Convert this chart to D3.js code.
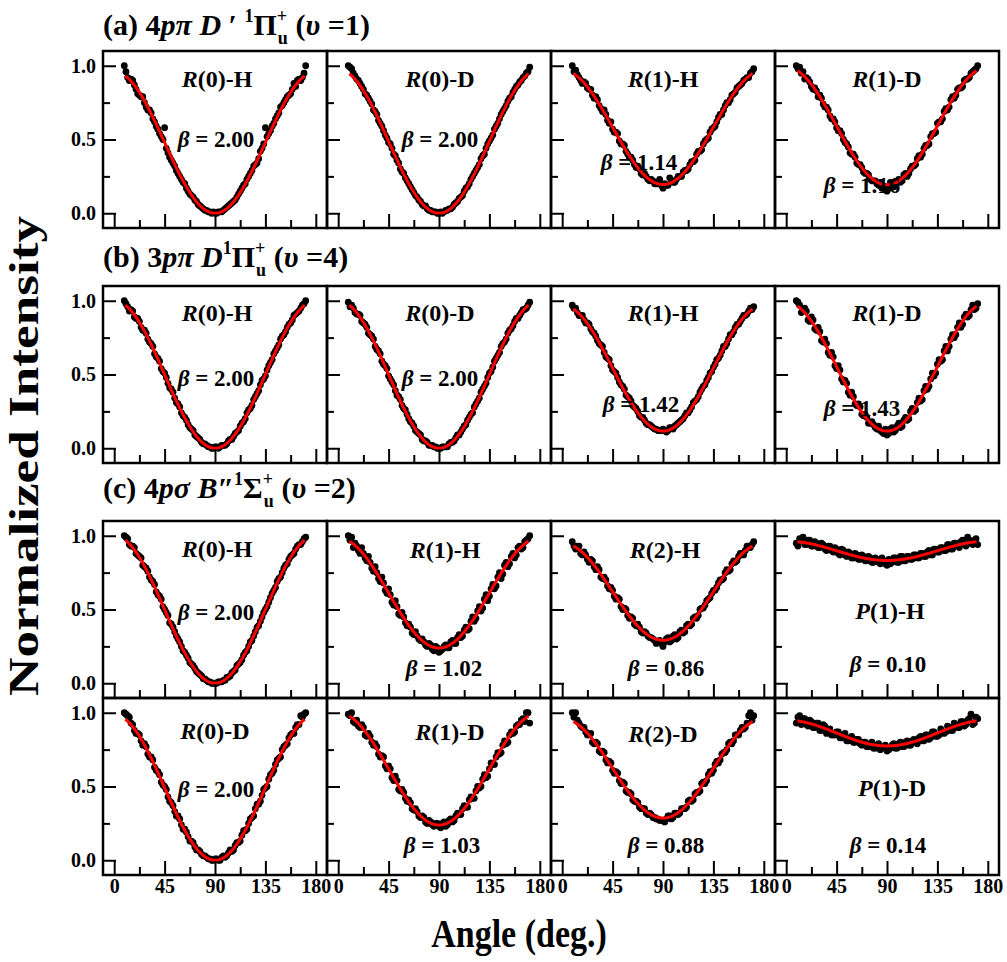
<!DOCTYPE html>
<html>
<head>
<meta charset="utf-8">
<script src="https://cdn.jsdelivr.net/npm/d3@7"></script>
<style>
  body { margin: 0; background: #fff; }
  svg { display: block; }
  text { font-family: "Liberation Serif", "Times New Roman", Times, serif; font-weight: bold; fill: #000; white-space: pre; }
</style>
</head>
<body>
<svg id="chart" width="1007" height="962"></svg>
<script>
// Detection angles (deg): two interleaved sweeps
const sweepA = [9,12,15,18,21,24,27,30,33,36,39,42,45,48,51,54,57,60,63,66,69,72,75,78,81,84,87,90,
  93,96,99,102,105,108,111,114,117,120,123,126,129,132,135,138,141,144,147,150,153,156,159,162,165,168,171];
const sweepB = [10.5,13.5,16.5,19.5,22.5,25.5,28.5,31.5,34.5,37.5,40.5,43.5,46.5,49.5,52.5,55.5,58.5,61.5,64.5,67.5,70.5,73.5,76.5,79.5,82.5,85.5,88.5,
  91.5,94.5,97.5,100.5,103.5,106.5,109.5,112.5,115.5,118.5,121.5,124.5,127.5,130.5,133.5,136.5,139.5,142.5,145.5,148.5,151.5,154.5,157.5,160.5,163.5,166.5,169.5];

// (a) 4pπ D′ state, υ=1
const a_R0H = [1.00,0.92,0.91,0.87,0.81,0.79,0.75,0.70,0.68,0.62,0.57,0.52,0.58,0.41,0.36,0.32,0.27,0.23,0.20,0.15,0.12,0.09,0.06,0.04,0.02,0.01,0.00,0.00,
  0.01,0.01,0.03,0.05,0.07,0.09,0.13,0.17,0.20,0.25,0.29,0.33,0.37,0.44,0.58,0.54,0.59,0.64,0.68,0.73,0.77,0.80,0.84,0.86,0.91,0.92,1.00];
const a_R0H_2 = [0.96,0.90,0.90,0.84,0.80,0.79,0.72,0.70,0.64,0.59,0.54,0.50,0.44,0.38,0.34,0.29,0.25,0.21,0.17,0.13,0.11,0.08,0.05,0.03,0.02,0.01,0.01,
  0.00,0.01,0.02,0.04,0.06,0.08,0.11,0.15,0.19,0.23,0.27,0.32,0.34,0.42,0.47,0.52,0.56,0.61,0.66,0.72,0.75,0.79,0.81,0.88,0.90,0.90,0.95];
const a_R0D = [1.00,0.98,0.93,0.90,0.86,0.81,0.78,0.74,0.69,0.63,0.59,0.53,0.48,0.44,0.39,0.34,0.28,0.24,0.20,0.16,0.12,0.09,0.06,0.05,0.02,0.01,0.01,0.00,
  0.00,0.02,0.03,0.04,0.07,0.10,0.12,0.17,0.20,0.25,0.29,0.33,0.39,0.44,0.49,0.53,0.59,0.64,0.69,0.73,0.78,0.82,0.86,0.89,0.92,0.95,0.99];
const a_R0D_2 = [0.99,0.95,0.91,0.88,0.84,0.80,0.76,0.70,0.67,0.61,0.56,0.51,0.47,0.40,0.36,0.30,0.27,0.22,0.18,0.14,0.11,0.08,0.05,0.03,0.02,0.01,0.00,
  0.01,0.01,0.02,0.03,0.06,0.08,0.11,0.15,0.18,0.23,0.27,0.31,0.37,0.40,0.47,0.51,0.57,0.61,0.67,0.71,0.76,0.79,0.84,0.87,0.90,0.93,0.96];
const a_R1H = [1.00,0.97,0.92,0.88,0.88,0.84,0.80,0.79,0.73,0.69,0.67,0.61,0.57,0.55,0.49,0.47,0.42,0.38,0.36,0.31,0.30,0.26,0.25,0.22,0.22,0.20,0.23,0.17,
  0.19,0.24,0.21,0.23,0.25,0.28,0.29,0.33,0.35,0.40,0.42,0.47,0.50,0.55,0.58,0.62,0.67,0.70,0.75,0.77,0.81,0.85,0.87,0.90,0.92,0.95,0.98];
const a_R1H_2 = [0.96,0.94,0.90,0.89,0.85,0.84,0.78,0.77,0.71,0.70,0.63,0.62,0.55,0.54,0.47,0.46,0.40,0.38,0.33,0.32,0.27,0.27,0.23,0.23,0.20,0.21,0.19,
  0.20,0.19,0.22,0.21,0.25,0.25,0.29,0.30,0.35,0.36,0.42,0.43,0.49,0.51,0.57,0.59,0.65,0.67,0.73,0.75,0.80,0.82,0.86,0.88,0.91,0.92,0.96];
const a_R1D = [1.00,0.99,0.96,0.92,0.89,0.84,0.83,0.80,0.74,0.72,0.66,0.64,0.58,0.56,0.50,0.47,0.41,0.40,0.34,0.33,0.28,0.27,0.23,0.22,0.20,0.21,0.18,0.15,
  0.21,0.18,0.22,0.21,0.26,0.25,0.30,0.32,0.37,0.38,0.44,0.46,0.52,0.54,0.61,0.62,0.69,0.70,0.77,0.78,0.84,0.85,0.90,0.91,0.95,0.97,1.00];
const a_R1D_2 = [0.98,0.95,0.91,0.91,0.86,0.85,0.79,0.78,0.72,0.70,0.64,0.62,0.56,0.54,0.48,0.45,0.40,0.38,0.33,0.31,0.27,0.26,0.22,0.22,0.19,0.17,0.18,
  0.17,0.20,0.19,0.23,0.22,0.27,0.27,0.32,0.33,0.39,0.40,0.46,0.47,0.54,0.55,0.62,0.64,0.71,0.72,0.79,0.80,0.85,0.86,0.91,0.92,0.96,0.98];

// (b) 3pπ D state, υ=4
const b_R0H = [1.00,0.96,0.94,0.89,0.88,0.82,0.80,0.74,0.71,0.64,0.61,0.54,0.51,0.44,0.40,0.34,0.30,0.24,0.21,0.16,0.13,0.09,0.07,0.04,0.03,0.01,0.00,0.01,
  0.00,0.02,0.02,0.05,0.06,0.10,0.12,0.17,0.20,0.26,0.29,0.35,0.39,0.46,0.49,0.56,0.60,0.66,0.70,0.76,0.79,0.84,0.87,0.91,0.93,0.97,1.00];
const b_R0H_2 = [0.98,0.93,0.93,0.88,0.86,0.80,0.78,0.72,0.69,0.62,0.59,0.52,0.48,0.41,0.38,0.31,0.28,0.22,0.19,0.14,0.12,0.08,0.06,0.03,0.02,0.01,0.00,
  0.01,0.01,0.02,0.03,0.06,0.08,0.11,0.15,0.18,0.24,0.27,0.33,0.37,0.43,0.47,0.53,0.58,0.64,0.68,0.74,0.77,0.82,0.85,0.90,0.92,0.95,0.98];
const b_R0D = [0.99,0.97,0.92,0.91,0.86,0.84,0.78,0.76,0.69,0.66,0.59,0.56,0.49,0.45,0.39,0.35,0.29,0.26,0.20,0.17,0.12,0.10,0.06,0.05,0.02,0.02,0.01,0.00,
  0.01,0.01,0.03,0.04,0.07,0.09,0.13,0.16,0.21,0.24,0.30,0.34,0.40,0.44,0.51,0.55,0.61,0.65,0.71,0.74,0.80,0.83,0.88,0.90,0.94,0.95,0.99];
const b_R0D_2 = [0.96,0.95,0.91,0.90,0.85,0.82,0.77,0.74,0.67,0.64,0.57,0.54,0.47,0.43,0.36,0.33,0.27,0.23,0.18,0.15,0.11,0.09,0.05,0.04,0.02,0.01,0.00,
  0.00,0.01,0.01,0.04,0.05,0.09,0.11,0.15,0.19,0.23,0.28,0.32,0.38,0.42,0.48,0.52,0.59,0.63,0.69,0.72,0.78,0.81,0.86,0.88,0.92,0.94,0.97];
const b_R1H = [0.97,0.95,0.90,0.90,0.85,0.84,0.79,0.76,0.71,0.69,0.62,0.60,0.53,0.51,0.45,0.42,0.36,0.34,0.29,0.27,0.22,0.21,0.17,0.16,0.14,0.13,0.12,0.13,
  0.11,0.14,0.13,0.16,0.18,0.20,0.24,0.26,0.31,0.33,0.38,0.42,0.46,0.51,0.55,0.60,0.63,0.69,0.71,0.77,0.79,0.84,0.86,0.90,0.91,0.95,0.96];
const b_R1H_2 = [0.95,0.92,0.90,0.87,0.85,0.81,0.78,0.73,0.70,0.65,0.61,0.56,0.52,0.48,0.43,0.40,0.35,0.32,0.28,0.25,0.21,0.19,0.16,0.15,0.13,0.12,0.12,
  0.12,0.12,0.14,0.15,0.17,0.19,0.22,0.24,0.28,0.32,0.35,0.40,0.43,0.48,0.52,0.57,0.61,0.66,0.69,0.74,0.77,0.82,0.84,0.88,0.90,0.93,0.94];
const b_R1D = [1.00,0.97,0.94,0.93,0.86,0.87,0.80,0.79,0.72,0.71,0.63,0.62,0.54,0.53,0.45,0.44,0.36,0.35,0.29,0.28,0.22,0.21,0.17,0.16,0.13,0.12,0.10,0.09,
  0.13,0.11,0.15,0.14,0.19,0.19,0.25,0.25,0.31,0.32,0.39,0.40,0.47,0.49,0.57,0.59,0.66,0.66,0.74,0.75,0.82,0.82,0.89,0.89,0.94,0.94,0.98];
const b_R1D_2 = [0.99,0.92,0.95,0.87,0.89,0.81,0.82,0.73,0.74,0.65,0.65,0.56,0.56,0.47,0.46,0.38,0.38,0.30,0.30,0.23,0.23,0.17,0.18,0.14,0.15,0.11,0.13,
  0.10,0.14,0.12,0.17,0.15,0.21,0.20,0.27,0.26,0.34,0.33,0.42,0.42,0.51,0.51,0.60,0.60,0.69,0.69,0.77,0.77,0.85,0.84,0.91,0.90,0.97,0.95];

// (c) 4pσ B″ state, υ=2
const c_R0H = [1.00,0.98,0.93,0.92,0.87,0.85,0.79,0.76,0.70,0.67,0.60,0.57,0.50,0.46,0.40,0.35,0.30,0.25,0.21,0.17,0.13,0.10,0.07,0.05,0.03,0.01,0.00,0.00,
  0.01,0.01,0.02,0.04,0.07,0.09,0.13,0.16,0.21,0.25,0.29,0.35,0.39,0.45,0.50,0.55,0.61,0.65,0.71,0.75,0.80,0.84,0.87,0.91,0.94,0.96,0.99];
const c_R0H_2 = [0.99,0.94,0.93,0.88,0.86,0.80,0.78,0.72,0.69,0.62,0.59,0.52,0.48,0.41,0.38,0.32,0.28,0.22,0.19,0.14,0.12,0.08,0.06,0.03,0.02,0.01,0.00,
  0.00,0.01,0.02,0.04,0.05,0.08,0.12,0.14,0.19,0.22,0.28,0.32,0.38,0.42,0.48,0.52,0.58,0.63,0.69,0.72,0.78,0.81,0.86,0.88,0.93,0.94,0.98];
const c_R1H = [1.00,0.99,0.95,0.90,0.92,0.85,0.86,0.78,0.79,0.71,0.72,0.63,0.64,0.55,0.56,0.47,0.48,0.41,0.40,0.34,0.35,0.30,0.30,0.26,0.27,0.23,0.25,0.21,
  0.23,0.26,0.24,0.29,0.27,0.33,0.32,0.38,0.37,0.45,0.44,0.52,0.51,0.60,0.59,0.67,0.66,0.75,0.74,0.82,0.81,0.88,0.87,0.93,0.92,0.97,1.00];
const c_R1H_2 = [0.97,0.92,0.93,0.88,0.88,0.83,0.82,0.76,0.75,0.69,0.68,0.61,0.60,0.53,0.52,0.46,0.45,0.39,0.38,0.33,0.32,0.29,0.28,0.25,0.26,0.22,0.24,
  0.22,0.25,0.24,0.28,0.27,0.31,0.31,0.36,0.36,0.42,0.42,0.49,0.49,0.57,0.56,0.64,0.64,0.72,0.71,0.80,0.79,0.86,0.85,0.92,0.91,0.96,0.98];
const c_R2H = [0.96,0.91,0.93,0.87,0.87,0.82,0.83,0.77,0.77,0.71,0.70,0.64,0.63,0.57,0.57,0.50,0.50,0.44,0.44,0.39,0.38,0.34,0.34,0.31,0.30,0.27,0.29,0.25,
  0.30,0.28,0.32,0.30,0.35,0.34,0.39,0.39,0.44,0.44,0.50,0.51,0.56,0.58,0.63,0.65,0.70,0.71,0.77,0.77,0.83,0.83,0.88,0.87,0.93,0.92,0.96];
const c_R2H_2 = [0.93,0.93,0.88,0.89,0.84,0.84,0.79,0.79,0.72,0.72,0.66,0.65,0.59,0.58,0.52,0.51,0.46,0.45,0.40,0.40,0.35,0.35,0.32,0.31,0.29,0.28,0.27,
  0.28,0.31,0.29,0.33,0.31,0.36,0.35,0.40,0.40,0.45,0.46,0.51,0.53,0.57,0.61,0.63,0.68,0.70,0.75,0.76,0.81,0.82,0.86,0.88,0.90,0.93,0.94];
const c_P1H = [0.95,0.98,0.99,0.94,0.97,0.93,0.95,0.92,0.94,0.90,0.93,0.89,0.91,0.87,0.90,0.86,0.88,0.85,0.87,0.84,0.86,0.83,0.85,0.82,0.84,0.81,0.83,0.80,
  0.81,0.85,0.82,0.86,0.83,0.86,0.84,0.87,0.85,0.88,0.86,0.89,0.87,0.91,0.89,0.92,0.90,0.94,0.91,0.95,0.93,0.96,0.94,0.99,0.95,0.97,0.94];
const c_P1H_2 = [0.93,0.97,0.94,0.97,0.93,0.96,0.92,0.95,0.91,0.93,0.90,0.92,0.88,0.91,0.87,0.89,0.85,0.88,0.84,0.87,0.83,0.86,0.82,0.85,0.82,0.85,0.81,
  0.84,0.82,0.85,0.82,0.86,0.83,0.86,0.84,0.87,0.85,0.88,0.86,0.90,0.87,0.91,0.89,0.92,0.90,0.94,0.91,0.95,0.92,0.97,0.93,0.97,0.94,0.98];
const c_R0D = [1.00,0.98,0.93,0.88,0.86,0.81,0.79,0.72,0.70,0.63,0.60,0.53,0.50,0.43,0.39,0.33,0.30,0.24,0.21,0.16,0.13,0.09,0.07,0.04,0.03,0.01,0.00,0.01,
  0.00,0.02,0.02,0.05,0.06,0.10,0.12,0.17,0.20,0.25,0.29,0.35,0.38,0.44,0.49,0.55,0.59,0.65,0.69,0.75,0.78,0.83,0.86,0.90,0.92,0.97,1.00];
const c_R0D_2 = [0.99,0.97,0.92,0.86,0.85,0.78,0.77,0.70,0.68,0.61,0.58,0.51,0.48,0.40,0.37,0.30,0.28,0.21,0.19,0.13,0.12,0.07,0.06,0.03,0.02,0.01,0.00,
  0.01,0.00,0.03,0.03,0.07,0.07,0.12,0.13,0.20,0.21,0.28,0.30,0.38,0.40,0.48,0.50,0.58,0.61,0.68,0.70,0.77,0.79,0.85,0.86,0.92,0.98,0.99];
const c_R1D = [0.99,1.00,0.93,0.91,0.92,0.85,0.86,0.80,0.79,0.72,0.71,0.64,0.64,0.56,0.57,0.48,0.48,0.42,0.41,0.35,0.35,0.30,0.30,0.26,0.27,0.24,0.25,0.23,
  0.25,0.23,0.27,0.26,0.30,0.31,0.35,0.36,0.41,0.42,0.47,0.49,0.55,0.56,0.62,0.65,0.70,0.72,0.78,0.79,0.85,0.86,0.91,0.92,0.96,1.00,0.93];
const c_R1D_2 = [0.98,0.94,0.95,0.90,0.90,0.84,0.84,0.78,0.77,0.70,0.70,0.62,0.62,0.54,0.54,0.47,0.46,0.40,0.39,0.34,0.33,0.29,0.29,0.25,0.26,0.23,0.25,
  0.22,0.26,0.24,0.28,0.27,0.32,0.31,0.37,0.36,0.43,0.42,0.50,0.50,0.58,0.57,0.66,0.65,0.73,0.73,0.81,0.80,0.87,0.87,0.92,0.95,0.94,1.00];
const c_R2D = [1.00,1.00,0.93,0.90,0.87,0.85,0.80,0.80,0.74,0.74,0.68,0.67,0.61,0.60,0.54,0.53,0.47,0.46,0.41,0.40,0.36,0.35,0.32,0.32,0.29,0.28,0.27,0.27,
  0.28,0.30,0.29,0.32,0.32,0.35,0.36,0.41,0.41,0.46,0.47,0.53,0.54,0.60,0.61,0.67,0.68,0.73,0.75,0.80,0.81,0.85,0.88,0.89,0.93,1.00,0.98];
const c_R2D_2 = [0.97,0.95,0.91,0.90,0.85,0.86,0.79,0.79,0.73,0.73,0.66,0.66,0.59,0.59,0.52,0.52,0.46,0.45,0.40,0.39,0.35,0.35,0.31,0.31,0.29,0.28,0.27,
  0.26,0.30,0.28,0.32,0.31,0.35,0.35,0.40,0.40,0.45,0.46,0.52,0.52,0.58,0.59,0.65,0.66,0.72,0.73,0.79,0.79,0.85,0.85,0.90,0.90,0.98,0.95];
const c_P1D = [0.93,0.98,0.96,0.92,0.95,0.90,0.93,0.88,0.92,0.86,0.89,0.85,0.87,0.83,0.85,0.81,0.83,0.80,0.82,0.79,0.80,0.77,0.79,0.76,0.78,0.75,0.77,0.74,
  0.76,0.79,0.76,0.80,0.77,0.81,0.78,0.82,0.79,0.84,0.81,0.85,0.83,0.87,0.84,0.89,0.86,0.91,0.88,0.93,0.90,0.94,0.91,0.95,0.99,0.93,0.96];
const c_P1D_2 = [0.97,0.92,0.96,0.91,0.94,0.90,0.93,0.88,0.91,0.87,0.85,0.85,0.87,0.83,0.86,0.81,0.84,0.80,0.82,0.78,0.80,0.77,0.80,0.76,0.79,0.76,0.78,
  0.75,0.78,0.76,0.79,0.77,0.80,0.78,0.81,0.80,0.83,0.81,0.85,0.82,0.87,0.84,0.85,0.87,0.87,0.90,0.88,0.92,0.90,0.94,0.92,0.96,0.92,0.97];

// Line names, anisotropy parameters and fitted amplitude at 0° for each panel
const lineBranch = ["R","R","R","R", "R","R","R","R", "R","R","R","P", "R","R","R","P"];
const lineLevel  = ["(0)-H","(0)-D","(1)-H","(1)-D", "(0)-H","(0)-D","(1)-H","(1)-D",
                    "(0)-H","(1)-H","(2)-H","(1)-H", "(0)-D","(1)-D","(2)-D","(1)-D"];
const betaValues = [2.00,2.00,1.14,1.16, 2.00,2.00,1.42,1.43, 2.00,1.02,0.86,0.10, 2.00,1.03,0.88,0.14];
const fitPeak    = [0.96,0.975,0.97,0.99, 1.00,1.00,0.97,0.99, 1.00,0.985,0.95,0.964, 0.985,1.00,0.96,0.95];
const sweepAValues = [a_R0H,a_R0D,a_R1H,a_R1D, b_R0H,b_R0D,b_R1H,b_R1D, c_R0H,c_R1H,c_R2H,c_P1H, c_R0D,c_R1D,c_R2D,c_P1D];
const sweepBValues = [a_R0H_2,a_R0D_2,a_R1H_2,a_R1D_2, b_R0H_2,b_R0D_2,b_R1H_2,b_R1D_2,
                      c_R0H_2,c_R1H_2,c_R2H_2,c_P1H_2, c_R0D_2,c_R1D_2,c_R2D_2,c_P1D_2];

// Axis ticks
const xTickLabels = [0,45,90,135,180];
const xMinorTicks = [22.5,67.5,112.5,157.5];
const yTickLabels = [0.0,0.5,1.0];
const yMinorTicks = [0.25,0.75];

// ---- layout ----
const colX = [103,327,551,775];
const rowY = [51,286,521,698];
const PW = 224, PH = 177;
// label anchors inside a panel: [centre dx, baseline dy] for the line name and for beta
const nameAt = [[114,36],[113,36],[112,36],[112,36],
                [114,35],[113,35],[112,35],[112,35],
                [114,36],[118,37],[114,37],[115,98],
                [112,41],[123,42],[112,44],[117,98]];
const betaAt = [[113,96],[113,96],[88,119],[87,142],
                [113,100],[113,100],[90,126],[87,130],
                [113,99],[117,155],[115,155],[113,151],
                [113,99],[115,155],[115,155],[113,155]];

const svg = d3.select("#chart");
const x = d3.scaleLinear().domain([-10,190]).range([0,PW]);
const y = d3.scaleLinear().domain([-0.1,1.1]).range([PH,0]);

function fitCurve(beta, peak) {
  // I(θ) ∝ 1 + β P2(cos θ), scaled to 'peak' at θ = 0
  return d3.range(10, 170.5, 1).map(t => {
    const c = Math.cos(t*Math.PI/180);
    const p2 = (3*c*c - 1)/2;
    return [t, peak*(1 + beta*p2)/(1 + beta)];
  });
}

const line = d3.line().x(d => x(d[0])).y(d => y(d[1]));

sweepAValues.forEach((vals, i) => {
  const r = Math.floor(i/4), c = i % 4;
  const g = svg.append("g").attr("transform", `translate(${colX[c]},${rowY[r]})`);

  // data points from both sweeps
  const pts = sweepA.map((a,k) => [a, vals[k]])
    .concat(sweepB.map((a,k) => [a, sweepBValues[i][k]]))
    .filter(d => d[1] != null);
  g.append("g").selectAll("circle").data(pts)
    .join("circle")
    .attr("cx", d => x(d[0])).attr("cy", d => y(d[1])).attr("r", 3.4)
    .attr("fill", "#000");

  // fit
  g.append("path").datum(fitCurve(betaValues[i], fitPeak[i]))
    .attr("d", line).attr("fill","none").attr("stroke","#ff0000").attr("stroke-width",3);

  // ticks
  const yMaj = d3.axisLeft(y).tickValues(yTickLabels).tickSize(-13).tickPadding(7)
    .tickFormat(c === 0 ? d3.format(".1f") : "");
  const yMin = d3.axisLeft(y).tickValues(yMinorTicks).tickSize(-7).tickFormat("");
  const xMaj = d3.axisBottom(x).tickValues(xTickLabels).tickSize(-14).tickPadding(4)
    .tickFormat(r === 3 ? d3.format("d") : "");
  const xMin = d3.axisBottom(x).tickValues(xMinorTicks).tickSize(-8).tickFormat("");
  [g.append("g").call(yMaj), g.append("g").call(yMin),
   g.append("g").attr("transform",`translate(0,${PH})`).call(xMaj),
   g.append("g").attr("transform",`translate(0,${PH})`).call(xMin)]
    .forEach(a => {
      a.attr("font-family", null).attr("font-size", null);
      a.select(".domain").remove();
      a.selectAll("line").attr("stroke","#000").attr("stroke-width",2);
      a.selectAll("text").style("font-size","20px");
    });

  // frame
  g.append("rect").attr("width",PW).attr("height",PH)
    .attr("fill","none").attr("stroke","#000").attr("stroke-width",2.5);

  // labels
  const nm = g.append("text").attr("x",nameAt[i][0]).attr("y",nameAt[i][1])
    .attr("text-anchor","middle").style("font-size","24px");
  nm.append("tspan").style("font-style","italic").text(lineBranch[i]);
  nm.append("tspan").text(lineLevel[i]);

  const bt = g.append("text").attr("x",betaAt[i][0]).attr("y",betaAt[i][1])
    .attr("text-anchor","middle").style("font-size","23px");
  bt.append("tspan").style("font-style","italic").text("β");
  bt.append("tspan").text(" = " + betaValues[i].toFixed(2));
});

// section headings with super/subscripts
function heading(x0, yb, pieces, size) {
  const g = svg.append("g");
  let cx = x0;
  pieces.forEach(p => {
    if (p.stack) {
      const s = size*0.6;
      const t1 = g.append("text").attr("x",cx).attr("y",yb - size*0.45).style("font-size",s+"px").text(p.stack[0]);
      const t2 = g.append("text").attr("x",cx + 1).attr("y",yb + size*0.3).style("font-size",s+"px").text(p.stack[1]);
      cx += Math.max(t1.node().getComputedTextLength(), t2.node().getComputedTextLength()) + 1;
    } else {
      const sz = p.sup ? size*0.6 : size;
      const t = g.append("text").attr("x",cx).attr("y", p.sup ? yb - size*0.42 : yb)
        .style("font-size", sz+"px").style("font-style", p.it ? "italic" : "normal").text(p.t);
      cx += t.node().getComputedTextLength();
    }
  });
}
const HS = 30;
heading(103, 35, [{t:"(a) 4"},{t:"p",it:1},{t:"π",it:1},{t:" "},{t:"D",it:1},{t:" ′ "},{t:"1",sup:1},{t:"Π"},
  {stack:["+","u"]},{t:" ("},{t:"υ",it:1},{t:" =1)"}], HS);
heading(103, 267, [{t:"(b) 3"},{t:"p",it:1},{t:"π",it:1},{t:" "},{t:"D",it:1},{t:"1",sup:1},{t:"Π"},
  {stack:["+","u"]},{t:" ("},{t:"υ",it:1},{t:" =4)"}], HS);
heading(103, 498, [{t:"(c) 4"},{t:"p",it:1},{t:"σ",it:1},{t:" "},{t:"B",it:1},{t:"″"},{t:"1",sup:1},{t:"Σ"},
  {stack:["+","u"]},{t:" ("},{t:"υ",it:1},{t:" =2)"}], HS);

// axis titles
svg.append("text").attr("transform","translate(519,947) scale(1,1.2)").attr("text-anchor","middle")
  .style("font-size","34px").text("Angle (deg.)");
svg.append("text").attr("transform","translate(38,456) rotate(-90)").attr("text-anchor","middle")
  .attr("textLength", 480).attr("lengthAdjust","spacingAndGlyphs")
  .style("font-size","42px").text("Normalized Intensity");
</script>
</body>
</html>
